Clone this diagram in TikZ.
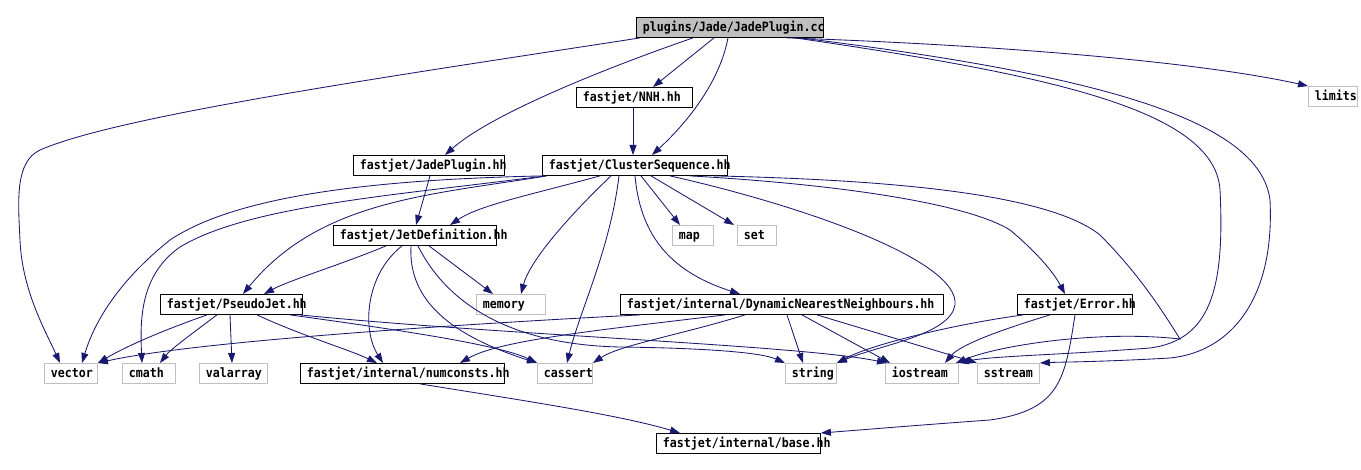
\documentclass[tikz,border=0pt]{standalone}
\usepackage{fontspec}
\usetikzlibrary{arrows.meta,calc}
\newfontfamily\dxfont{DejaVu Sans Mono}[FakeStretch=0.9]
\definecolor{edgec}{HTML}{191970}
\definecolor{sysc}{HTML}{BFBFBF}
\definecolor{srcf}{HTML}{BFBFBF}
\tikzset{
  anybox/.style={rectangle, line width=0.9pt, inner xsep=6.5pt, inner ysep=0pt,
    text height=9.5pt, text depth=1.5pt, font=\dxfont\bfseries\fontsize{12.9}{13}\selectfont},
  docbox/.style={anybox, draw=black, fill=white},
  sysbox/.style={anybox, draw=sysc, fill=white},
  srcbox/.style={anybox, draw=black, fill=srcf},
  dep/.style={draw=edgec, line width=0.85pt, -{Triangle[length=10pt,width=7pt]}}
}
\newcommand\dxbox[7]{%
  \pgfmathsetmacro\dxw{#4-#2}\pgfmathsetmacro\dxh{#5-#3}\pgfmathsetmacro\dxt{#4-#2-13}%
  \node[#1, anchor=north west, minimum width=\dxw pt, minimum height=\dxh pt] (#6) at (#2,#3) {\makebox[\dxt pt][l]{#7}};}
\begin{document}
\begin{tikzpicture}[x=1pt,y=-1pt]
\useasboundingbox (0,0) rectangle (1361,470);
\dxbox{srcbox}{636}{17}{823}{37}{cc}{plugins/Jade/JadePlugin.cc}
\dxbox{docbox}{576}{87}{692}{107}{nnh}{fastjet/NNH.hh}
\dxbox{docbox}{353}{155}{504}{175}{jph}{fastjet/JadePlugin.hh}
\dxbox{docbox}{542}{155}{727}{175}{cs}{fastjet/ClusterSequence.hh}
\dxbox{docbox}{333}{225}{496}{245}{jd}{fastjet/JetDefinition.hh}
\dxbox{sysbox}{672}{225}{713}{245}{nmap}{map}
\dxbox{sysbox}{737}{225}{776}{245}{nset}{set}
\dxbox{sysbox}{1308}{86}{1357}{106}{limits}{limits}
\dxbox{docbox}{160}{294}{302}{314}{pj}{fastjet/PseudoJet.hh}
\dxbox{sysbox}{476}{294}{545}{314}{memory}{memory}
\dxbox{docbox}{620}{294}{943}{314}{dnn}{fastjet/internal/DynamicNearestNeighbours.hh}
\dxbox{docbox}{1017}{294}{1132}{314}{err}{fastjet/Error.hh}
\dxbox{sysbox}{44}{363}{97}{383}{vector}{vector}
\dxbox{sysbox}{122}{363}{175}{383}{cmath}{cmath}
\dxbox{sysbox}{199}{363}{267}{383}{valarray}{valarray}
\dxbox{docbox}{300}{363}{504}{383}{numc}{fastjet/internal/numconsts.hh}
\dxbox{sysbox}{537}{363}{592}{383}{cassert}{cassert}
\dxbox{sysbox}{785}{363}{836}{383}{string}{string}
\dxbox{sysbox}{885}{363}{958}{383}{iostream}{iostream}
\dxbox{sysbox}{977}{363}{1039}{383}{sstream}{sstream}
\dxbox{docbox}{656}{433}{820}{453}{base}{fastjet/internal/base.hh}
% --- JadePlugin.cc
\draw[dep] ([xshift=4pt]cc.south west) .. controls (400,75) and (120,115) .. (40,150) .. controls (15,162) and (18,200) .. (20,240) .. controls (22,290) and (45,330) .. ([xshift=16pt]vector.north west);
\draw[dep] ([xshift=57pt]cc.south west) .. controls (600,70) and (490,115) .. ([xshift=92pt]jph.north west);
\draw[dep] ([xshift=78pt]cc.south west) -- ([xshift=77pt]nnh.north west);
\draw[dep] ([xshift=92pt]cc.south west) .. controls (720,80) and (690,120) .. ([xshift=110pt]cs.north west);
\draw[dep] ([xshift=151pt]cc.south west) .. controls (1000,45) and (1200,62) .. (limits.north west);
\draw[dep] ([xshift=159pt]cc.south west) .. controls (1050,75) and (1215,110) .. (1220,190) .. controls (1225,290) and (1210,340) .. (1150,348) .. controls (1060,355) and (990,356) .. (iostream.north east);
\draw[dep] ([xshift=164pt]cc.south west) .. controls (1100,75) and (1260,120) .. (1270,200) .. controls (1275,300) and (1230,352) .. (1170,358) .. controls (1100,362) and (1060,362) .. (sstream.north east);
% --- NNH
\draw[dep] ([xshift=57pt]nnh.south west) -- ([xshift=91pt]cs.north west);
% --- JadePlugin.hh
\draw[dep] ([xshift=77pt]jph.south west) -- ([xshift=83pt]jd.north west);
% --- ClusterSequence.hh
\draw[dep] ([xshift=1pt]cs.south west) .. controls (350,180) and (230,200) .. (170,240) .. controls (120,280) and (95,320) .. ([xshift=38pt]vector.north west);
\draw[dep] ([xshift=3pt]cs.south west) .. controls (400,195) and (250,205) .. (180,247) .. controls (140,275) and (140,320) .. ([xshift=20pt]cmath.north west);
\draw[dep] ([xshift=5pt]cs.south west) .. controls (430,195) and (320,200) .. ([xshift=83pt]pj.north west);
\draw[dep] ([xshift=58pt]cs.south west) .. controls (530,195) and (480,205) .. ([xshift=117pt]jd.north west);
\draw[dep] ([xshift=69pt]cs.south west) .. controls (570,215) and (530,260) .. ([xshift=45pt]memory.north west);
\draw[dep] ([xshift=77pt]cs.south west) .. controls (610,250) and (580,310) .. ([xshift=30pt]cassert.north west);
\draw[dep] ([xshift=93pt]cs.south west) .. controls (640,230) and (665,270) .. ([xshift=120pt]dnn.north west);
\draw[dep] ([xshift=99pt]cs.south west) -- ([xshift=8pt]nmap.north west);
\draw[dep] ([xshift=109pt]cs.south west) -- ([xshift=-3pt]nset.north west);
\draw[dep] ([xshift=128pt]cs.south west) .. controls (800,205) and (960,260) .. (955,305) .. controls (950,335) and (880,345) .. (string.north east);
\draw[dep] ([xshift=148pt]cs.south west) .. controls (850,185) and (970,205) .. (1010,230) .. controls (1040,255) and (1055,275) .. ([xshift=48pt]err.north west);
\draw[dep] ([xshift=172pt]cs.south west) .. controls (900,180) and (1050,195) .. (1100,235) .. controls (1140,275) and (1165,315) .. (1180,339) .. controls (1100,330) and (1000,345) .. ([xshift=-3pt]iostream.north east);
% --- JetDefinition.hh
\draw[dep] ([xshift=53pt]jd.south west) .. controls (340,265) and (290,280) .. ([xshift=104pt]pj.north west);
\draw[dep] ([xshift=69pt]jd.south west) .. controls (365,275) and (362,330) .. ([xshift=83pt]numc.north west);
\draw[dep] ([xshift=78pt]jd.south west) .. controls (408,300) and (450,335) .. (cassert.north west);
\draw[dep] ([xshift=85pt]jd.south west) .. controls (450,310) and (520,345) .. (620,347) .. controls (700,348) and (760,352) .. (string.north west);
\draw[dep] ([xshift=96pt]jd.south west) -- ([xshift=17pt]memory.north west);
% --- PseudoJet.hh
\draw[dep] ([xshift=47pt]pj.south west) .. controls (150,335) and (120,350) .. (vector.north east);
\draw[dep] ([xshift=57pt]pj.south west) .. controls (190,335) and (170,350) .. ([xshift=38pt]cmath.north west);
\draw[dep] ([xshift=70pt]pj.south west) -- ([xshift=33pt]valarray.north west);
\draw[dep] ([xshift=97pt]pj.south west) .. controls (300,335) and (350,350) .. ([xshift=77pt]numc.north west);
\draw[dep] ([xshift=130pt]pj.south west) .. controls (400,330) and (500,345) .. (cassert.north west);
\draw[dep] ([xshift=140pt]pj.south west) .. controls (500,335) and (800,345) .. ([xshift=2pt]iostream.north west);
% --- DynamicNearestNeighbours.hh
\draw[dep] ([xshift=20pt]dnn.south west) .. controls (500,322) and (200,340) .. (vector.north east);
\draw[dep] ([xshift=105pt]dnn.south west) .. controls (600,330) and (500,340) .. ([xshift=160pt]numc.north west);
\draw[dep] ([xshift=125pt]dnn.south west) .. controls (680,335) and (620,345) .. (cassert.north east);
\draw[dep] ([xshift=167pt]dnn.south west) -- ([xshift=18pt]string.north west);
\draw[dep] ([xshift=182pt]dnn.south west) -- ([xshift=5pt]iostream.north west);
\draw[dep] ([xshift=197pt]dnn.south west) -- (sstream.north west);
% --- Error.hh
\draw[dep] ([xshift=6pt]err.south west) .. controls (950,325) and (870,345) .. (string.north east);
\draw[dep] ([xshift=33pt]err.south west) .. controls (1000,330) and (960,345) .. ([xshift=60pt]iostream.north west);
\draw[dep] ([xshift=58pt]err.south west) .. controls (1065,380) and (1060,410) .. (990,420) .. controls (920,425) and (860,430) .. (base.north east);
% --- numconsts.hh
\draw[dep] ([xshift=120pt]numc.south west) .. controls (520,400) and (620,415) .. ([xshift=24pt]base.north west);
\end{tikzpicture}
\end{document}
